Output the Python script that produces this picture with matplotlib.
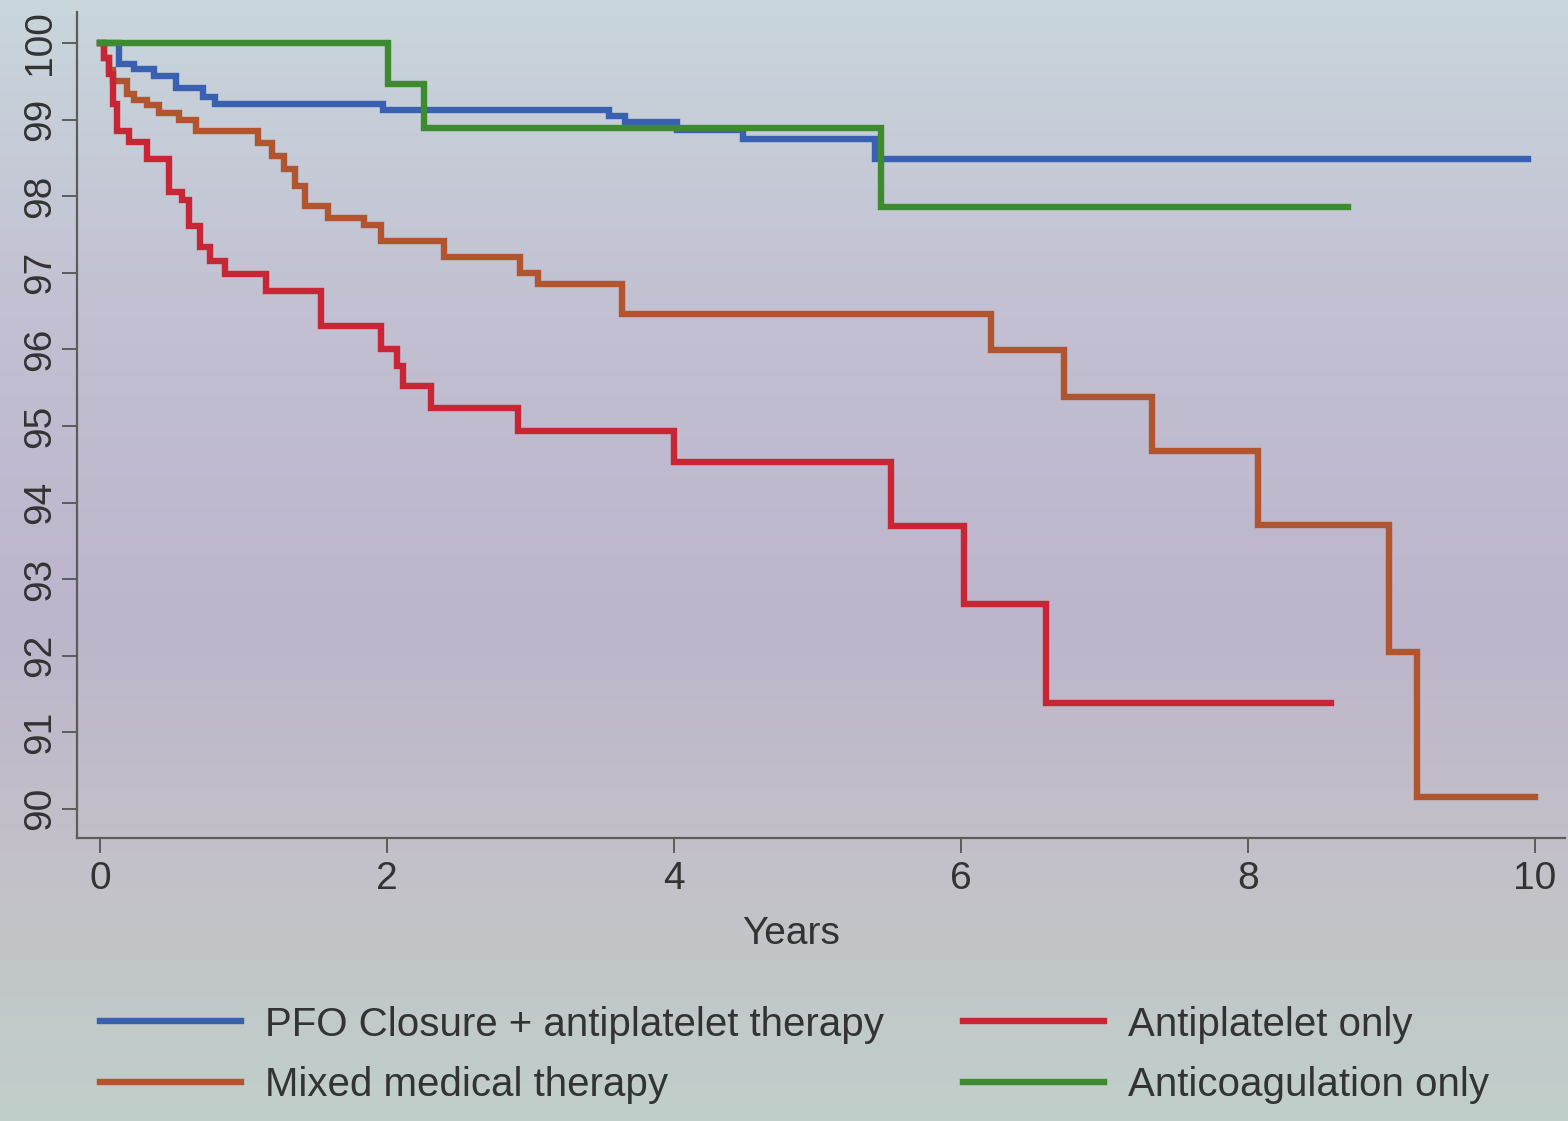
import numpy as np
import matplotlib
matplotlib.use("Agg")
import matplotlib.pyplot as plt
from matplotlib.colors import to_rgb

plt.rcParams['font.family'] = ['Liberation Sans', 'DejaVu Sans']

# ---- data ----
pfo_years = [0, 0.13, 0.24, 0.38, 0.53, 0.72, 0.80, 1.97, 3.55, 3.66, 4.02, 4.48, 5.40, 9.95]
pfo_surv = [100, 99.73, 99.66, 99.57, 99.41, 99.30, 99.20, 99.13, 99.05, 98.97, 98.86, 98.75, 98.48, 98.48]

mixed_years = [0, 0.03, 0.06, 0.09, 0.19, 0.24, 0.33, 0.41, 0.55, 0.67, 1.10, 1.20, 1.28, 1.36,
               1.43, 1.59, 1.84, 1.96, 2.40, 2.93, 3.05, 3.64, 6.21, 6.72, 7.33, 8.07, 8.98, 9.18, 10.0]
mixed_surv = [100, 99.8, 99.65, 99.50, 99.33, 99.26, 99.19, 99.09, 98.99, 98.85, 98.70, 98.53, 98.35, 98.13,
              97.87, 97.71, 97.63, 97.42, 97.20, 97.00, 96.85, 96.46, 95.99, 95.38, 94.67, 93.70, 92.05, 90.15, 90.15]

anti_years = [0, 0.03, 0.06, 0.09, 0.12, 0.20, 0.33, 0.48, 0.57, 0.62, 0.70, 0.77, 0.87, 1.16, 1.54,
              1.96, 2.07, 2.11, 2.31, 2.91, 4.00, 5.51, 6.02, 6.59, 8.58]
anti_surv = [100, 99.8, 99.6, 99.2, 98.85, 98.71, 98.49, 98.05, 97.95, 97.61, 97.34, 97.16, 96.99, 96.76, 96.31,
             96.00, 95.78, 95.52, 95.23, 94.94, 94.53, 93.69, 92.67, 91.38, 91.38]

coag_years = [0, 2.01, 2.26, 5.44, 8.70]
coag_surv = [100, 99.47, 98.89, 97.86, 97.86]

labels = ["PFO Closure + antiplatelet therapy", "Mixed medical therapy",
          "Antiplatelet only", "Anticoagulation only"]
x_ticks = [0, 2, 4, 6, 8, 10]
y_ticks = [90, 91, 92, 93, 94, 95, 96, 97, 98, 99, 100]

colors = ["#3a60b2", "#b0552e", "#c82634", "#3e8a2e"]
text_color = "#333333"
axis_color = "#5c5c5c"

fig = plt.figure(figsize=(15.68, 11.21), dpi=100)

# background gradient (photo of projected slide)
bg = fig.add_axes([0, 0, 1, 1], zorder=-10)
stops = [(0.0, "#c9d6dc"), (0.28, "#c2c0d2"), (0.55, "#bdb5cc"), (0.78, "#c3c1c8"), (1.0, "#c0cfca")]
ys = np.linspace(0, 1, 300)
pos = [s[0] for s in stops]
cols = np.array([to_rgb(s[1]) for s in stops])
grad = np.stack([np.interp(ys, pos, cols[:, k]) for k in range(3)], axis=-1)
img = np.repeat(grad[:, None, :], 4, axis=1)
bg.imshow(img, aspect='auto', extent=[0, 1, 0, 1], origin='upper')
bg.set_axis_off()

ax = fig.add_axes([0.0491, 0.2525, 0.949, 0.7368])
ax.set_facecolor('none')

lw = 4.6
series = [(pfo_years, pfo_surv), (mixed_years, mixed_surv), (anti_years, anti_surv), (coag_years, coag_surv)]
draw_order = [1, 2, 0, 3]
handles = [None] * 4
for i in draw_order:
    t, s = series[i]
    h, = ax.step(t, s, where='post', color=colors[i], lw=lw, label=labels[i],
                 solid_joinstyle='miter')
    handles[i] = h

ax.set_xlim(-0.16, 10.21)
ax.set_ylim(89.62, 100.405)
ax.set_xticks(x_ticks)
ax.set_yticks(y_ticks)
ax.set_xticklabels([str(v) for v in x_ticks])
ax.set_yticklabels([str(v) for v in y_ticks])

for side in ['top', 'right']:
    ax.spines[side].set_visible(False)
for side in ['left', 'bottom']:
    ax.spines[side].set_color(axis_color)
    ax.spines[side].set_linewidth(1.6)

ax.tick_params(axis='both', direction='out', length=10.5, width=1.4, color=axis_color,
               labelsize=28, labelcolor=text_color)
ax.tick_params(axis='x', pad=6)
ax.tick_params(axis='y', pad=3, labelrotation=90)
for lab in ax.get_yticklabels():
    lab.set_va('center')

ax.set_xlabel("Years", fontsize=28, color=text_color)
ax.xaxis.set_label_coords(0.48, -0.095)

leg = fig.legend(handles=handles, labels=labels, loc='upper left', bbox_to_anchor=(0.064, 0.103),
                 ncol=2, frameon=False, fontsize=29, handlelength=3.5, handletextpad=0.6,
                 columnspacing=1.95, labelspacing=0.55, borderpad=0, borderaxespad=0)
for t in leg.get_texts():
    t.set_color(text_color)

fig.savefig("out.png", dpi=100)
